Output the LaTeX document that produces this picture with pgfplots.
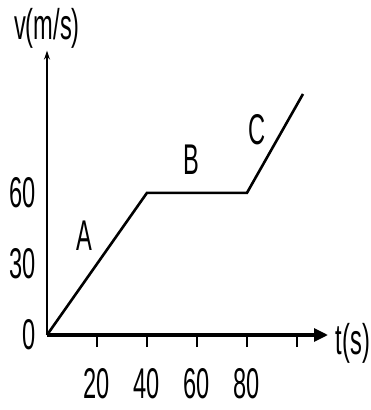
\documentclass[border=0pt]{standalone}
\usepackage{fontspec}
\setmainfont{Liberation Sans}[FakeStretch=0.55]
\usepackage{pgfplots}
\pgfplotsset{compat=1.18}
\usetikzlibrary{arrows.meta}
\begin{document}
\fontsize{43}{48}\selectfont
\begin{tikzpicture}[x=1pt,y=1pt]
\useasboundingbox (-47,-75) rectangle (324,335);
\begin{axis}[
  at={(0,0)}, anchor=origin,
  x=2.5pt, y=2.37pt,
  xmin=0, xmax=112.4, ymin=0, ymax=120,
  axis lines=left,
  clip=false,
  x axis line style={line width=3.2pt, -{Triangle[length=14pt,width=13pt]}},
  y axis line style={line width=1.8pt, -{Stealth[length=9pt,width=6pt]}},
  xtick={20,40,60,80,100},
  xticklabels={20,40,60,80,{}},
  ytick={0,30,60},
  yticklabels={\raisebox{-10pt}{0},\raisebox{-18pt}{30},60},
  major tick length=12pt,
  tick align=outside,
  x tick style={line width=1.6pt, black},
  y tick style={draw=none},
  xticklabel style={yshift=-7pt},
  yticklabel style={xshift=15pt},
  /pgf/number format/assume math mode=true,
]
\addplot[black, line width=2.6pt, line join=miter]
  coordinates {(0,0) (40,60) (80,60) (102.4,101.7)};
\node at (axis cs:14.8,41.8) {A};
\node at (axis cs:57.6,73.8) {B};
\node at (axis cs:84,86.5) {C};
\end{axis}
\node at (306,-8) {t(s)};
\node at (0,307) {v(m/s)};
\end{tikzpicture}
\end{document}
